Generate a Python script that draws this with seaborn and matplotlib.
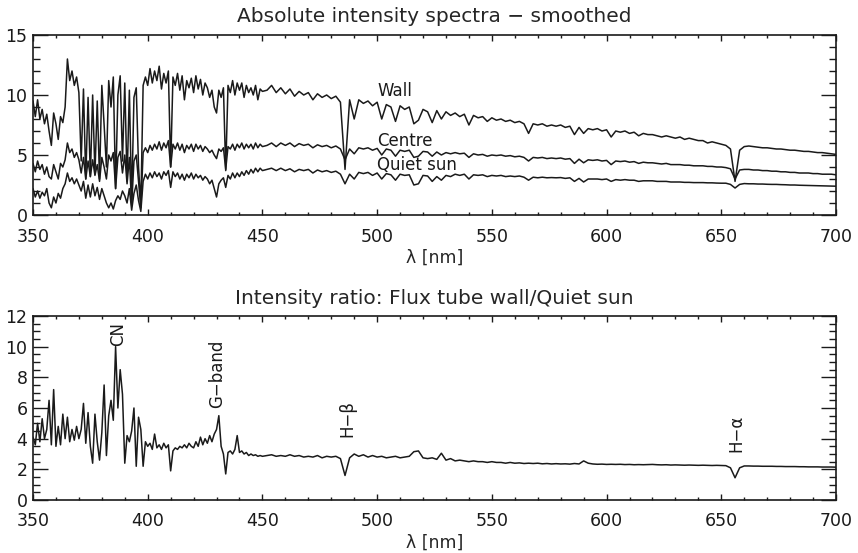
import numpy as np
import pandas as pd
import matplotlib
matplotlib.use("Agg")
import matplotlib.pyplot as plt
from matplotlib.ticker import MultipleLocator
import seaborn as sns

# ---------------- data ----------------
wl_blue = list(range(350, 451))          # 1 nm sampling, 350-450 nm
wl_red = list(range(452, 701, 2))        # 2 nm sampling, 452-700 nm

wall_blue = [9.5, 8.2, 9.6, 8.0, 8.8, 7.6, 8.4, 7.0, 5.8, 8.5,
             7.6, 6.3, 8.2, 7.7, 9.0, 13.0, 11.2, 12.0, 10.8, 11.5,
             10.2, 4.5, 10.5, 3.0, 9.8, 3.2, 10.0, 3.4, 9.5, 3.0,
             10.8, 7.5, 4.0, 11.2, 9.0, 11.5, 2.2, 10.0, 11.6, 4.5,
             11.0, 2.8, 10.4, 1.0, 9.8, 10.6, 4.0, 0.8, 10.8, 11.5,
             10.8, 12.2, 11.0, 12.0, 11.2, 12.4, 10.5, 11.8, 11.0, 12.0,
             4.0, 11.5, 10.8, 11.8, 10.4, 11.6, 9.6, 11.2, 10.6, 11.4,
             10.2, 11.6, 10.5, 11.3, 10.0, 11.0, 10.6, 9.8, 10.4, 9.0,
             8.5, 10.4, 9.8, 10.6, 3.7, 10.8, 10.2, 11.2, 10.0, 11.0,
             10.4, 11.0, 9.8, 10.8, 10.2, 10.6, 10.0, 10.8, 9.6, 10.5,
             10.3]
wall_red = [10.4, 10.8, 10.2, 10.6, 10.1, 10.5, 9.9, 10.3, 10.0, 10.2,
            9.6, 10.1, 9.8, 10.0, 9.7, 9.9, 9.4, 3.8, 9.6, 8.0,
            9.6, 9.3, 9.5, 9.1, 9.4, 8.0, 9.2, 9.0, 7.8, 9.1,
            8.8, 9.0, 7.6, 7.9, 8.8, 8.6, 7.7, 8.7, 8.0, 8.6,
            8.3, 8.5, 8.2, 8.4, 7.5, 8.3, 8.1, 8.2, 7.8, 8.1,
            7.9, 8.0, 7.8, 7.9, 7.7, 7.8, 7.6, 6.8, 7.6, 7.5,
            7.6, 7.4, 7.5, 7.4, 7.5, 7.3, 7.4, 6.7, 7.3, 6.8,
            7.2, 7.1, 7.2, 7.0, 7.1, 6.5, 7.0, 6.9, 7.0, 6.8,
            6.9, 6.6, 6.8, 6.7, 6.7, 6.6, 6.5, 6.6, 6.5, 6.4,
            6.5, 6.3, 6.4, 6.3, 6.2, 6.2, 6.0, 6.1, 6.0, 5.9,
            5.8, 5.5, 2.8, 5.4, 5.7, 5.75, 5.7, 5.65, 5.6, 5.6,
            5.55, 5.5, 5.5, 5.45, 5.4, 5.4, 5.35, 5.3, 5.3, 5.25,
            5.2, 5.2, 5.15, 5.1, 5.05]

centre_blue = [4.3, 3.6, 4.5, 3.8, 4.2, 3.4, 4.0, 3.2, 3.0, 4.2,
               3.6, 3.0, 4.3, 4.0, 4.6, 6.0, 5.2, 5.5, 4.8, 5.2,
               4.6, 3.5, 4.8, 3.0, 4.5, 3.2, 4.6, 3.3, 4.2, 2.8,
               4.8, 4.0, 3.0, 5.0, 4.5, 5.2, 2.2, 4.8, 5.3, 3.5,
               5.0, 2.6, 4.8, 0.8, 4.5, 5.0, 2.8, 0.6, 5.2, 5.6,
               5.2, 5.8, 5.4, 5.9, 5.5, 6.1, 5.4, 6.0, 5.6, 6.2,
               4.0, 5.9, 5.5, 6.0, 5.4, 5.9, 5.2, 5.8, 5.5, 5.9,
               5.3, 5.9, 5.5, 5.8, 5.3, 5.7, 5.5, 5.2, 5.4, 5.0,
               4.7, 5.5, 5.3, 5.6, 3.8, 5.7, 5.5, 5.9, 5.4, 5.9,
               5.6, 6.0, 5.5, 5.9, 5.6, 5.9, 5.5, 6.0, 5.6, 5.9,
               5.7]
centre_red = [5.8, 6.0, 5.7, 6.0, 5.8, 6.0, 5.7, 5.95, 5.8, 5.9,
              5.6, 5.85, 5.7, 5.8, 5.6, 5.75, 5.5, 4.6, 5.5, 5.1,
              5.6, 5.5, 5.6, 5.4, 5.55, 5.0, 5.5, 5.4, 4.9, 5.4,
              5.3, 5.4, 4.8, 4.9, 5.3, 5.25, 4.9, 5.25, 5.0, 5.2,
              5.1, 5.2, 5.1, 5.15, 4.8, 5.1, 5.0, 5.05, 4.9, 5.0,
              4.95, 5.0, 4.9, 4.95, 4.85, 4.9, 4.8, 4.5, 4.8, 4.75,
              4.8, 4.7, 4.75, 4.7, 4.75, 4.65, 4.7, 4.3, 4.65, 4.35,
              4.6, 4.55, 4.6, 4.5, 4.55, 4.2, 4.5, 4.45, 4.5, 4.4,
              4.45, 4.3, 4.4, 4.35, 4.35, 4.3, 4.25, 4.3, 4.2, 4.2,
              4.2, 4.15, 4.15, 4.1, 4.1, 4.1, 4.05, 4.05, 4.0, 4.0,
              3.95, 3.85, 3.0, 3.75, 3.8, 3.8, 3.75, 3.75, 3.7, 3.7,
              3.65, 3.65, 3.6, 3.6, 3.55, 3.55, 3.5, 3.5, 3.5, 3.45,
              3.45, 3.4, 3.4, 3.4, 3.35]

quiet_blue = [2.2, 1.5, 2.0, 1.4, 1.9, 1.6, 2.2, 1.0, 0.6, 1.5,
              1.0, 1.8, 1.4, 2.2, 2.6, 3.5, 2.8, 3.1, 2.6, 3.0,
              2.5, 2.0, 2.8, 1.4, 2.5, 1.5, 2.6, 1.6, 2.3, 1.3,
              2.2, 1.6, 1.0, 0.6, 1.0, 0.5, 1.2, 1.6, 1.3, 2.0,
              1.6, 1.0, 2.2, 0.4, 1.8, 2.5, 1.2, 0.3, 2.8, 3.4,
              3.0, 3.5, 3.1, 3.6, 3.2, 3.5, 3.0, 3.6, 3.3, 3.7,
              2.3, 3.6, 3.2, 3.5, 3.0, 3.4, 2.9, 3.4, 3.1, 3.5,
              3.0, 3.4, 3.1, 3.3, 2.9, 3.2, 3.0, 2.6, 2.9, 2.2,
              1.5, 2.6, 2.9, 3.1, 2.3, 3.3, 3.0, 3.5, 3.1, 3.5,
              3.2, 3.6, 3.3, 3.7, 3.4, 3.8, 3.5, 3.9, 3.6, 3.9,
              3.7]
quiet_red = [3.8, 3.9, 3.7, 3.9, 3.7, 3.85, 3.6, 3.8, 3.7, 3.8,
             3.5, 3.75, 3.6, 3.7, 3.55, 3.65, 3.4, 2.6, 3.4, 3.0,
             3.55, 3.45, 3.55, 3.3, 3.5, 3.0, 3.45, 3.35, 2.9, 3.4,
             3.3, 3.35, 2.5, 2.6, 3.3, 3.25, 2.8, 3.2, 2.9, 3.3,
             3.2, 3.4, 3.3, 3.4, 3.0, 3.35, 3.3, 3.35, 3.2, 3.3,
             3.25, 3.3, 3.2, 3.25, 3.2, 3.25, 3.15, 2.9, 3.15, 3.1,
             3.15, 3.1, 3.12, 3.1, 3.12, 3.05, 3.1, 2.8, 3.05, 2.75,
             3.0, 3.0, 3.0, 2.95, 3.0, 2.8, 2.95, 2.9, 2.95, 2.9,
             2.9, 2.8, 2.85, 2.85, 2.85, 2.8, 2.8, 2.8, 2.75, 2.75,
             2.75, 2.72, 2.72, 2.7, 2.7, 2.7, 2.68, 2.68, 2.66, 2.65,
             2.65, 2.55, 2.25, 2.55, 2.62, 2.6, 2.6, 2.58, 2.58, 2.56,
             2.55, 2.55, 2.53, 2.52, 2.5, 2.5, 2.48, 2.47, 2.46, 2.45,
             2.44, 2.43, 2.42, 2.41, 2.4]

ratio_blue = [4.1, 3.6, 5.0, 3.8, 5.3, 4.0, 4.6, 6.5, 3.6, 7.2,
              3.5, 4.8, 3.6, 5.6, 4.0, 5.4, 3.8, 4.6, 3.9, 4.8,
              4.0, 4.6, 6.3, 3.7, 5.7, 3.5, 2.4, 5.6, 3.8, 2.6,
              4.4, 7.5, 2.9, 5.5, 6.5, 5.2, 10.0, 6.0, 8.5, 6.9,
              2.4, 4.2, 3.8, 4.5, 6.0, 2.2, 5.4, 4.6, 2.2, 3.8,
              3.5, 3.7, 3.3, 4.3, 3.4, 3.6, 3.3, 3.7, 3.4, 3.6,
              1.9, 3.2, 3.4, 3.3, 3.5, 3.4, 3.6, 3.4, 3.7, 3.5,
              3.4, 3.8, 3.5, 4.1, 3.6, 4.0, 3.7, 4.2, 3.8, 4.3,
              4.6, 5.5, 3.5, 3.0, 1.7, 3.1, 3.2, 3.0, 3.3, 4.2,
              3.1, 3.2, 3.0, 3.1, 2.9, 3.0, 2.9, 2.95, 2.85, 2.9,
              2.85]
ratio_red = [2.9, 2.95, 2.85, 2.9, 2.85, 2.95, 2.85, 2.9, 2.8, 2.85,
             2.8, 2.9, 2.75, 2.85, 2.8, 2.85, 2.7, 1.6, 2.75, 3.0,
             2.85, 2.95, 2.8, 2.9, 2.8, 2.85, 2.75, 2.8, 2.85, 2.75,
             2.8, 2.85, 3.15, 3.2, 2.75, 2.7, 2.75, 2.65, 3.05, 2.6,
             2.7, 2.55, 2.6, 2.55, 2.5, 2.55, 2.5, 2.5, 2.45, 2.5,
             2.45, 2.45, 2.4, 2.45, 2.4, 2.42, 2.38, 2.4, 2.38, 2.4,
             2.36, 2.38, 2.35, 2.37, 2.35, 2.36, 2.34, 2.38, 2.35, 2.55,
             2.4, 2.35, 2.33, 2.34, 2.32, 2.33, 2.32, 2.33, 2.31, 2.32,
             2.3, 2.31, 2.3, 2.31, 2.32, 2.3, 2.29, 2.3, 2.28, 2.29,
             2.28, 2.27, 2.28, 2.27, 2.26, 2.27, 2.26, 2.25, 2.26, 2.25,
             2.24, 2.1, 1.45, 2.1, 2.22, 2.22, 2.21, 2.21, 2.2, 2.2,
             2.2, 2.19, 2.19, 2.18, 2.18, 2.18, 2.17, 2.17, 2.16, 2.16,
             2.16, 2.15, 2.15, 2.15, 2.14]

series_names = ["Wall", "Centre", "Quiet sun"]
line_labels = ["CN", "G\u2212band", "H\u2212\u03b2", "H\u2212\u03b1"]
line_label_pos = [387.0, 430.2, 486.9, 656.5]
line_label_y = [10.05, 6.0, 4.1, 3.15]

# ---------------- tables ----------------
wl = wl_blue + wl_red
spectra = pd.DataFrame({
    "wl": wl * 3,
    "I": wall_blue + wall_red + centre_blue + centre_red + quiet_blue + quiet_red,
    "series": sum([[n] * len(wl) for n in series_names], []),
})
ratio = pd.DataFrame({"wl": wl, "r": ratio_blue + ratio_red})

# ---------------- figure ----------------
sns.set_style("ticks")
plt.rcParams["font.family"] = ["DejaVu Sans"]
plt.rcParams["axes.linewidth"] = 1.2

fig = plt.figure(figsize=(8.58, 5.53), dpi=100)
W, H = 858, 553
ax1 = fig.add_axes([33 / W, 1 - 215 / H, (836 - 33) / W, 180 / H])
ax2 = fig.add_axes([33 / W, 1 - 500 / H, (836 - 33) / W, 184 / H])

for name in series_names:
    sns.lineplot(data=spectra[spectra["series"] == name], x="wl", y="I", ax=ax1,
                 color="#1a1a1a", lw=1.1, estimator=None, errorbar=None, legend=False)
sns.lineplot(data=ratio, x="wl", y="r", ax=ax2, color="#1a1a1a", lw=1.1,
             estimator=None, errorbar=None, legend=False)

ax1.set_xlim(350, 700)
ax1.set_ylim(0, 15)
ax2.set_xlim(350, 700)
ax2.set_ylim(0, 12)

fs = 12.5
for ax, ymaj, ymin in [(ax1, 5, 1), (ax2, 2, 0.5)]:
    ax.xaxis.set_major_locator(MultipleLocator(50))
    ax.xaxis.set_minor_locator(MultipleLocator(10))
    ax.yaxis.set_major_locator(MultipleLocator(ymaj))
    ax.yaxis.set_minor_locator(MultipleLocator(ymin))
    ax.tick_params(axis="both", which="both", direction="in", top=True, right=True,
                   color="#1a1a1a", width=1.0)
    ax.tick_params(axis="y", which="major", length=11)
    ax.tick_params(axis="y", which="minor", length=5)
    ax.tick_params(axis="x", which="major", length=4, pad=9)
    ax.tick_params(axis="x", which="minor", length=2.5)
    ax.tick_params(axis="both", labelsize=fs, colors="#1a1a1a")
    ax.tick_params(axis="y", pad=4)
    ax.set_xlabel("\u03bb [nm]", fontsize=fs, labelpad=2)
    ax.set_ylabel("")
    for s in ax.spines.values():
        s.set_color("#1a1a1a")

ax1.set_title("Absolute intensity spectra \u2212 smoothed", fontsize=14.5, pad=9)
ax2.set_title("Intensity ratio: Flux tube wall/Quiet sun", fontsize=14.5, pad=9)

# series labels
lab_y = [10.3, 6.2, 4.2]
for name, yv in zip(series_names, lab_y):
    ax1.text(500.0, yv, name, fontsize=12, ha="left", va="center", color="#1a1a1a")

# spectral line labels
for t, xv, yv in zip(line_labels, line_label_pos, line_label_y):
    ax2.text(xv, yv, t, rotation=90, fontsize=12, ha="center", va="bottom",
             color="#1a1a1a")

fig.savefig("out.png", dpi=100)
